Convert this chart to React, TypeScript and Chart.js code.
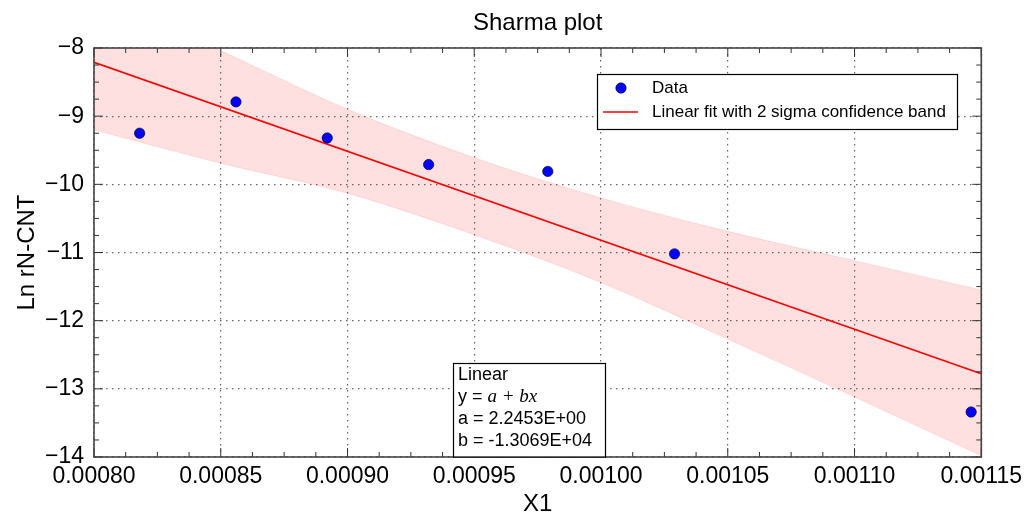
import React, { useEffect, useRef } from "react";
import { Chart, registerables } from "chart.js";
Chart.register(...registerables);

// ---- data ----
const X_TICKS = [0.0008, 0.00085, 0.0009, 0.00095, 0.001, 0.00105, 0.0011, 0.00115];
const Y_TICKS = [-14, -13, -12, -11, -10, -9, -8];
const dataX = [0.000818, 0.000856, 0.000892, 0.000932, 0.000979, 0.001029, 0.001146];
const dataY = [-9.25, -8.79, -9.32, -9.71, -9.81, -11.02, -13.34];
const fitX = [0.0008, 0.00115];
const fitY = [-8.21, -12.78];
const bandX = [0.0008, 0.00085, 0.0009, 0.00095, 0.001, 0.00105, 0.0011, 0.00115];
const bandUpper = [-7.22, -8.04, -8.9, -9.61, -10.2, -10.69, -11.12, -11.55];
const bandLower = [-9.2, -9.69, -10.13, -10.74, -11.44, -12.27, -13.12, -13.98];
const TITLE = "Sharma plot";
const X_LABEL = "X1";
const Y_LABEL = "Ln rN-CNT";
const LEGEND_LABELS = ["Data", "Linear fit with 2 sigma confidence band"];
const BOX_TITLE = "Linear";
const BOX_EQ_PREFIX = "y = ";
const BOX_EQ = "a + bx";
const FIT_PARAMS = ["a = 2.2453E+00", "b = -1.3069E+04"];

const FONT = "'Liberation Sans', Arial, sans-serif";

const decor = {
  id: "decor",
  afterDatasetsDraw(chart: any) {
    const { ctx, chartArea, scales } = chart;
    const { left, right, top, bottom } = chartArea;
    const xs = scales.x, ys = scales.y;
    ctx.save();
    ctx.strokeStyle = "#333";
    ctx.lineWidth = 1;
    const MAJ = 9, MIN = 5;
    const line = (x1: number, y1: number, x2: number, y2: number) => {
      ctx.beginPath(); ctx.moveTo(x1, y1); ctx.lineTo(x2, y2); ctx.stroke();
    };
    for (let i = 0; i < X_TICKS.length; i++) {
      const px = xs.getPixelForValue(X_TICKS[i]);
      line(px, bottom, px, bottom - MAJ);
      line(px, top, px, top + MAJ);
      if (i < X_TICKS.length - 1) {
        for (let k = 1; k < 4; k++) {
          const v = X_TICKS[i] + ((X_TICKS[i + 1] - X_TICKS[i]) * k) / 4;
          const p = xs.getPixelForValue(v);
          line(p, bottom, p, bottom - MIN);
          line(p, top, p, top + MIN);
        }
      }
    }
    for (let i = 0; i < Y_TICKS.length; i++) {
      const py = ys.getPixelForValue(Y_TICKS[i]);
      line(left, py, left + MAJ, py);
      line(right, py, right - MAJ, py);
      if (i < Y_TICKS.length - 1) {
        for (let k = 1; k < 4; k++) {
          const v = Y_TICKS[i] + ((Y_TICKS[i + 1] - Y_TICKS[i]) * k) / 4;
          const p = ys.getPixelForValue(v);
          line(left, p, left + MIN, p);
          line(right, p, right - MIN, p);
        }
      }
    }
    ctx.strokeStyle = "#444";
    ctx.lineWidth = 1.6;
    ctx.strokeRect(left, top, right - left, bottom - top);
    ctx.restore();
  },
  afterDraw(chart: any) {
    const { ctx, chartArea } = chart;
    const { left, right, top, bottom } = chartArea;
    const cx = (left + right) / 2;
    ctx.save();
    ctx.fillStyle = "#000";
    // title
    ctx.font = `24px ${FONT}`;
    ctx.textAlign = "center";
    ctx.textBaseline = "alphabetic";
    ctx.fillText(TITLE, cx, 30);
    // x label
    ctx.fillText(X_LABEL, cx, 511);
    // y label
    ctx.save();
    ctx.translate(34, (top + bottom) / 2);
    ctx.rotate(-Math.PI / 2);
    ctx.fillText(Y_LABEL, 0, 0);
    ctx.restore();

    // legend
    ctx.fillStyle = "#fff";
    ctx.fillRect(597, 74, 360, 55);
    ctx.strokeStyle = "#000";
    ctx.lineWidth = 1.2;
    ctx.strokeRect(597.5, 74.5, 360, 55);
    ctx.beginPath();
    ctx.arc(621, 88, 5.2, 0, Math.PI * 2);
    ctx.fillStyle = "#0000ff";
    ctx.fill();
    ctx.lineWidth = 0.6;
    ctx.strokeStyle = "#000";
    ctx.stroke();
    ctx.strokeStyle = "#ff0000";
    ctx.lineWidth = 1.5;
    ctx.beginPath(); ctx.moveTo(603, 112); ctx.lineTo(638, 112); ctx.stroke();
    ctx.fillStyle = "#000";
    ctx.font = `17px ${FONT}`;
    ctx.textAlign = "left";
    ctx.textBaseline = "middle";
    ctx.fillText(LEGEND_LABELS[0], 652, 88);
    ctx.fillText(LEGEND_LABELS[1], 652, 112);

    // fit parameter box
    ctx.fillStyle = "#fff";
    ctx.fillRect(453, 363, 152, bottom - 363);
    ctx.strokeStyle = "#000";
    ctx.lineWidth = 1.2;
    ctx.strokeRect(453.5, 363.5, 152, bottom - 363.5);
    ctx.fillStyle = "#000";
    ctx.font = `18px ${FONT}`;
    ctx.textBaseline = "middle";
    ctx.fillText(BOX_TITLE, 458, 375);
    ctx.fillText(BOX_EQ_PREFIX, 458, 397);
    const w = ctx.measureText(BOX_EQ_PREFIX).width;
    ctx.font = `italic 19px 'Liberation Serif', 'DejaVu Serif', serif`;
    ctx.fillText(BOX_EQ, 458 + w, 397);
    ctx.font = `18px ${FONT}`;
    ctx.fillText(FIT_PARAMS[0], 458, 419);
    ctx.fillText(FIT_PARAMS[1], 458, 441);
    ctx.restore();
  },
};

export default function App() {
  const ref = useRef<HTMLCanvasElement | null>(null);
  useEffect(() => {
    if (!ref.current) return;
    const chart = new Chart(ref.current, {
      type: "scatter",
      data: {
        datasets: [
          {
            label: LEGEND_LABELS[0],
            data: dataX.map((x, i) => ({ x, y: dataY[i] })),
            backgroundColor: "#0000ff",
            borderColor: "#000",
            borderWidth: 0.6,
            pointRadius: 5.2,
            showLine: false,
          },
          {
            label: LEGEND_LABELS[1],
            data: fitX.map((x, i) => ({ x, y: fitY[i] })),
            borderColor: "#ff0000",
            borderWidth: 1.6,
            pointRadius: 0,
            showLine: true,
            fill: false,
          },
          {
            label: "upper",
            data: bandX.map((x, i) => ({ x, y: bandUpper[i] })),
            borderColor: "rgba(255,0,0,0.10)",
            borderWidth: 1,
            backgroundColor: "rgba(255,0,0,0.12)",
            pointRadius: 0,
            showLine: true,
            cubicInterpolationMode: "monotone",
            fill: "+1",
          },
          {
            label: "lower",
            data: bandX.map((x, i) => ({ x, y: bandLower[i] })),
            borderColor: "rgba(255,0,0,0.10)",
            borderWidth: 1,
            pointRadius: 0,
            showLine: true,
            cubicInterpolationMode: "monotone",
            fill: false,
          },
        ],
      } as any,
      options: {
        animation: false,
        responsive: true,
        maintainAspectRatio: false,
        layout: { padding: { top: 48, right: 46, left: 0, bottom: 0 } },
        plugins: { legend: { display: false }, tooltip: { enabled: false }, title: { display: false } },
        scales: {
          x: {
            type: "linear",
            min: 0.0008,
            max: 0.00115,
            afterBuildTicks: (s: any) => { s.ticks = X_TICKS.map((v) => ({ value: v })); },
            afterFit: (s: any) => { s.height = 57; },
            ticks: {
              padding: 6,
              color: "#000",
              font: { family: FONT, size: 23 },
              maxRotation: 0,
              autoSkip: false,
              callback: (v: any) => Number(v).toFixed(5),
            },
            grid: { color: "#666", lineWidth: 1.2, drawTicks: false },
            border: { display: false, dash: [1.5, 4.5] },
          },
          y: {
            type: "linear",
            min: -14,
            max: -8,
            afterBuildTicks: (s: any) => { s.ticks = Y_TICKS.map((v) => ({ value: v })); },
            afterFit: (s: any) => { s.width = 94; },
            ticks: {
              padding: 10,
              color: "#000",
              font: { family: FONT, size: 23 },
              autoSkip: false,
              callback: (v: any) => (Number(v) < 0 ? "\u2212" + Math.abs(Number(v)) : String(v)),
            },
            grid: { color: "#666", lineWidth: 1.2, drawTicks: false },
            border: { display: false, dash: [1.5, 4.5] },
          },
        },
      } as any,
      plugins: [decor],
    });
    return () => chart.destroy();
  }, []);
  return (
    <div style={{ position: "absolute", left: 0, top: 0, width: 1028, height: 514 }}>
      <canvas ref={ref} />
    </div>
  );
}
